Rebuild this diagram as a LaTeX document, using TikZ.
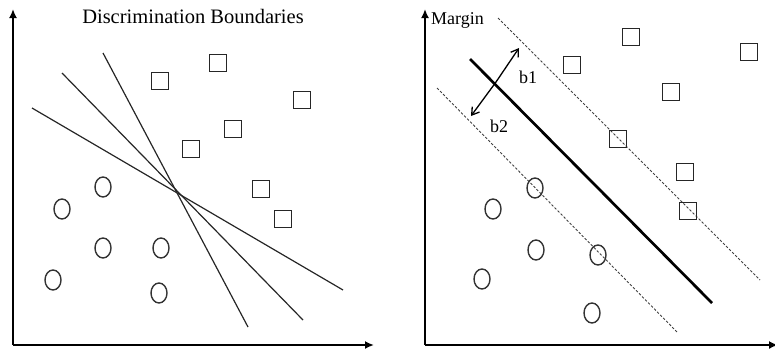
\documentclass[tikz,border=0pt]{standalone}
\usepackage{fontspec}
\setmainfont{Liberation Serif}
\usetikzlibrary{arrows.meta,shapes.geometric}
\begin{document}
\begin{tikzpicture}[x=1pt,y=-1pt,
  axis/.style={line width=2pt,-{Latex[length=9pt,width=8pt]}},
  sq/.style={draw=black!85,line width=1.6pt,rectangle,minimum size=17pt,inner sep=0pt},
  circ/.style={draw=black!80,line width=1.4pt,ellipse,minimum width=16pt,minimum height=20pt,inner sep=0pt},
  bound/.style={line width=1.2pt,black!85},
  marg/.style={line width=0.9pt,dash pattern=on 2.5pt off 1.8pt,black!75},
  hyper/.style={line width=2.7pt},
  barrow/.style={line width=1.3pt,-{Straight Barb[length=7pt,width=9pt]}},
  lbl/.style={font=\fontsize{18}{20}\selectfont,inner sep=0pt}]
\useasboundingbox (0,0) rectangle (775,348);
% ---------- left panel ----------
\coordinate (lo) at (13,345);
\coordinate (ly) at (13,9);
\coordinate (lx) at (374,345);
\draw[axis] (lo) -- (ly);
\draw[axis] (lo) -- (lx);
\node[inner sep=0pt,font=\fontsize{20.5}{24}\selectfont] (title) at (193,16) {Discrimination Boundaries};
\coordinate (a1) at (32,108);  \coordinate (a2) at (343,290);
\coordinate (b1s) at (62,73);  \coordinate (b2s) at (303,320);
\coordinate (c1) at (103,53);  \coordinate (c2) at (248,327);
\draw[bound] (a1) -- (a2);
\draw[bound] (b1s) -- (b2s);
\draw[bound] (c1) -- (c2);
\node[sq] (ls1) at (160,81) {};
\node[sq] (ls2) at (218,63) {};
\node[sq] (ls3) at (302,100) {};
\node[sq] (ls4) at (233,129) {};
\node[sq] (ls5) at (191,149) {};
\node[sq] (ls6) at (261,189) {};
\node[sq] (ls7) at (283,219) {};
\node[circ] (lc1) at (103,187) {};
\node[circ] (lc2) at (62,209) {};
\node[circ] (lc3) at (103,248) {};
\node[circ] (lc4) at (161,248) {};
\node[circ] (lc5) at (53,280) {};
\node[circ] (lc6) at (159,293) {};
% ---------- right panel ----------
\coordinate (ro) at (425,345);
\coordinate (ry) at (425,9);
\coordinate (rx) at (778,345);
\draw[axis] (ro) -- (ry);
\draw[axis] (ro) -- (rx);
\node[lbl,anchor=west] (margin) at (431,20) {Margin};
\coordinate (h1) at (470,59);  \coordinate (h2) at (712,303);
\coordinate (u1) at (498,18);  \coordinate (u2) at (760,280);
\coordinate (d1) at (437,88);  \coordinate (d2) at (678,333);
\draw[marg] (u1) -- (u2);
\draw[marg] (d1) -- (d2);
\draw[hyper] (h1) -- (h2);
\coordinate (mid) at (496,82);
\coordinate (t1) at (519,48);
\coordinate (t2) at (471,116);
\draw[barrow] (mid) -- (t1);
\draw[barrow] (mid) -- (t2);
\node[lbl] (lb1) at (528,77) {b1};
\node[lbl] (lb2) at (499,126) {b2};
\node[sq] (rs1) at (572,65) {};
\node[sq] (rs2) at (631,37) {};
\node[sq] (rs3) at (749,52) {};
\node[sq] (rs4) at (671,92) {};
\node[sq] (rs5) at (618,139) {};
\node[sq] (rs6) at (685,172) {};
\node[sq] (rs7) at (688,211) {};
\node[circ] (rc1) at (535,188) {};
\node[circ] (rc2) at (493,209) {};
\node[circ] (rc3) at (536,250) {};
\node[circ] (rc4) at (598,255) {};
\node[circ] (rc5) at (482,279) {};
\node[circ] (rc6) at (592,313) {};
\end{tikzpicture}
\end{document}
